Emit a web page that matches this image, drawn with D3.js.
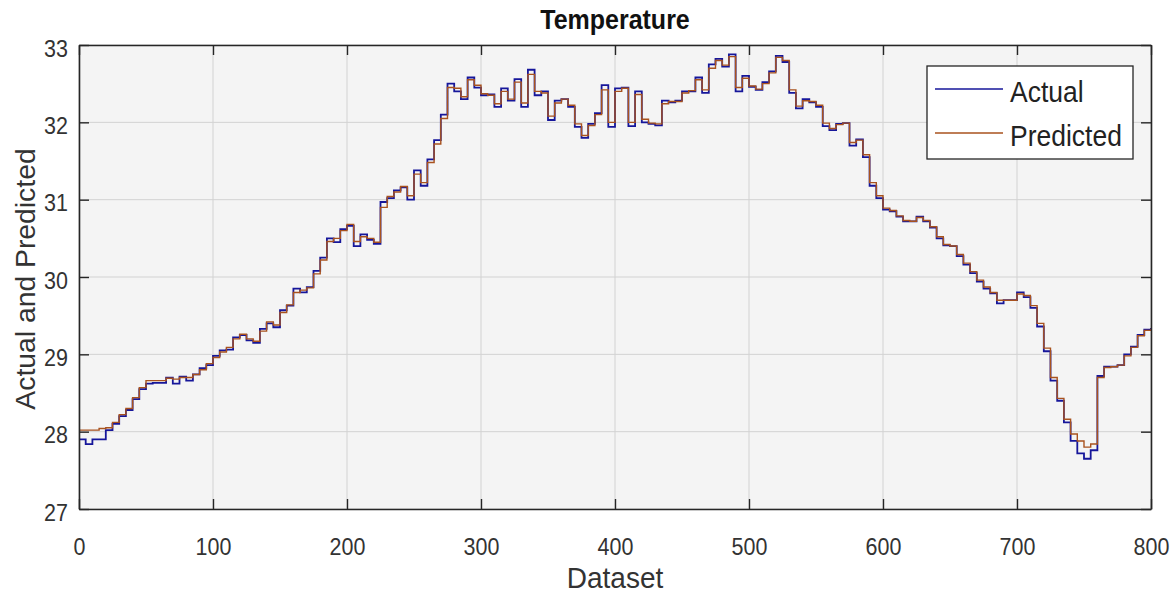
<!DOCTYPE html>
<html>
<head>
<meta charset="utf-8">
<script src="https://cdn.jsdelivr.net/npm/d3@7"></script>
<style>
  body { margin: 0; background: #ffffff; }
  text { font-family: "Liberation Sans", Arial, Helvetica, sans-serif; }
</style>
</head>
<body>
<svg id="chart" width="1176" height="595"></svg>
<script>
// Chart text
const chartTitle = "Temperature";
const xLabel = "Dataset";
const yLabel = "Actual and Predicted";
const seriesNames = ["Actual", "Predicted"];

// Axis ticks
const xTicks = [0, 100, 200, 300, 400, 500, 600, 700, 800];
const yTicks = [27, 28, 29, 30, 31, 32, 33];

// Sample spacing of the series (dataset index 0..800, every 5th sample)
const sampleStep = 5;

const actual = [
  27.90, 27.84, 27.90, 27.90, 28.02, 28.10, 28.20, 28.28, 28.42, 28.55,
  28.62, 28.63, 28.63, 28.70, 28.62, 28.71, 28.66, 28.74, 28.82, 28.86,
  28.98, 29.05, 29.06, 29.22, 29.25, 29.18, 29.15, 29.33, 29.40, 29.35,
  29.57, 29.63, 29.85, 29.80, 29.87, 30.08, 30.25, 30.50, 30.45, 30.62,
  30.66, 30.40, 30.55, 30.48, 30.43, 30.97, 31.02, 31.12, 31.16, 31.00,
  31.38, 31.18, 31.52, 31.77, 32.10, 32.50, 32.40, 32.30, 32.58, 32.45,
  32.35, 32.36, 32.20, 32.44, 32.28, 32.56, 32.20, 32.68, 32.35, 32.40,
  32.03, 32.28, 32.30, 32.20, 31.94, 31.80, 31.98, 32.12, 32.48, 31.94,
  32.44, 32.45, 31.95, 32.40, 32.00, 31.98, 31.96, 32.28, 32.26, 32.28,
  32.40, 32.40, 32.58, 32.38, 32.75, 32.82, 32.72, 32.88, 32.40, 32.60,
  32.46, 32.42, 32.52, 32.66, 32.86, 32.78, 32.38, 32.18, 32.30, 32.26,
  32.20, 31.95, 31.90, 31.98, 31.99, 31.70, 31.78, 31.55, 31.18, 31.02,
  30.87, 30.85, 30.78, 30.72, 30.72, 30.78, 30.72, 30.64, 30.50, 30.41,
  30.40, 30.27, 30.16, 30.05, 29.94, 29.85, 29.79, 29.66, 29.70, 29.70,
  29.80, 29.74, 29.60, 29.36, 29.04, 28.66, 28.40, 28.12, 27.88, 27.72,
  27.65, 27.76, 28.72, 28.84, 28.84, 28.86, 29.00, 29.10, 29.25, 29.32,
  29.34
];

const predicted = [
  28.02, 28.02, 28.02, 28.04, 28.05, 28.12, 28.22, 28.30, 28.44, 28.57,
  28.66, 28.66, 28.66, 28.69, 28.68, 28.70, 28.70, 28.74, 28.80, 28.88,
  28.96, 29.03, 29.09, 29.20, 29.26, 29.20, 29.17, 29.30, 29.42, 29.38,
  29.54, 29.64, 29.80, 29.83, 29.86, 30.04, 30.22, 30.46, 30.50, 30.60,
  30.68, 30.46, 30.52, 30.50, 30.45, 30.90, 31.04, 31.10, 31.17, 31.05,
  31.33, 31.22, 31.48, 31.72, 32.05, 32.45, 32.44, 32.33, 32.55, 32.48,
  32.37, 32.35, 32.24, 32.40, 32.30, 32.52, 32.25, 32.62, 32.40, 32.38,
  32.08, 32.25, 32.30, 32.22, 31.98, 31.83, 31.96, 32.10, 32.42, 32.00,
  32.40, 32.44, 32.00, 32.36, 32.04, 31.99, 31.98, 32.24, 32.27, 32.27,
  32.38, 32.41, 32.55, 32.42, 32.70, 32.80, 32.74, 32.85, 32.45, 32.57,
  32.47, 32.43, 32.50, 32.64, 32.84, 32.80, 32.42, 32.21, 32.28, 32.27,
  32.22, 31.99, 31.92, 31.97, 31.99, 31.74, 31.77, 31.58, 31.22, 31.05,
  30.89, 30.86, 30.79, 30.73, 30.72, 30.77, 30.73, 30.65, 30.52, 30.42,
  30.40, 30.29, 30.18, 30.07, 29.96, 29.87, 29.80, 29.70, 29.70, 29.70,
  29.78, 29.76, 29.63, 29.40, 29.08, 28.70, 28.43, 28.16, 27.97, 27.88,
  27.80, 27.84, 28.70, 28.83, 28.84, 28.86, 28.98, 29.09, 29.24, 29.31,
  29.33
];

const seriesColors = ["#16169a", "#a8521e"];

// Layout
const plot = { left: 79, right: 1151, top: 45, bottom: 509 };
const svg = d3.select("#chart");

const x = d3.scaleLinear().domain([0, 800]).range([plot.left, plot.right]);
const y = d3.scaleLinear().domain([27, 33]).range([plot.bottom, plot.top]);

// Axes background
svg.append("rect")
  .attr("x", plot.left).attr("y", plot.top)
  .attr("width", plot.right - plot.left).attr("height", plot.bottom - plot.top)
  .attr("fill", "#f4f4f4");

// Grid lines
svg.append("g").selectAll("line").data(xTicks).join("line")
  .attr("x1", d => x(d)).attr("x2", d => x(d))
  .attr("y1", plot.top).attr("y2", plot.bottom)
  .attr("stroke", "#d2d2d2").attr("stroke-width", 1);
svg.append("g").selectAll("line").data(yTicks).join("line")
  .attr("x1", plot.left).attr("x2", plot.right)
  .attr("y1", d => y(d)).attr("y2", d => y(d))
  .attr("stroke", "#d2d2d2").attr("stroke-width", 1);

// Series lines
const rows = actual.map((v, i) => ({ idx: i * sampleStep, actual: v, predicted: predicted[i] }));
svg.append("clipPath").attr("id", "plotClip").append("rect")
  .attr("x", plot.left).attr("y", plot.top)
  .attr("width", plot.right - plot.left).attr("height", plot.bottom - plot.top);

const lineFor = key => d3.line()
  .x(d => x(d.idx))
  .y(d => y(d[key]))
  .curve(d3.curveStepAfter);

const seriesG = svg.append("g").attr("clip-path", "url(#plotClip)");
seriesG.append("path").datum(rows)
  .attr("d", lineFor("actual"))
  .attr("fill", "none").attr("stroke", seriesColors[0]).attr("stroke-width", 1.8);
seriesG.append("path").datum(rows)
  .attr("d", lineFor("predicted"))
  .attr("fill", "none").attr("stroke", seriesColors[1]).attr("stroke-width", 1.4);

// Axes with inward ticks on all four sides
const tickLen = 10;
const axisColor = "#262626";
const xb = d3.axisBottom(x).tickValues(xTicks).tickSizeInner(-tickLen).tickSizeOuter(0).tickFormat(d3.format("d"));
const xt = d3.axisTop(x).tickValues(xTicks).tickSizeInner(-tickLen).tickSizeOuter(0).tickFormat("");
const yl = d3.axisLeft(y).tickValues(yTicks).tickSizeInner(-tickLen).tickSizeOuter(0).tickFormat(d3.format("d"));
const yr = d3.axisRight(y).tickValues(yTicks).tickSizeInner(-tickLen).tickSizeOuter(0).tickFormat("");

function styleAxis(g) {
  g.select(".domain").attr("stroke", axisColor).attr("stroke-width", 1.6);
  g.selectAll(".tick line").attr("stroke", axisColor).attr("stroke-width", 1.4);
  g.selectAll(".tick text").attr("fill", "#333333").style("font-size", "21.5px")
    .style("font-family", "'Liberation Sans', Arial, sans-serif");
}

const gxb = svg.append("g").attr("transform", `translate(0,${plot.bottom})`).call(xb).call(styleAxis);
gxb.selectAll(".tick text").attr("dy", null).attr("y", 0)
  .attr("transform", "translate(0,46) scale(1,1.12)");
svg.append("g").attr("transform", `translate(0,${plot.top})`).call(xt).call(styleAxis);
const gyl = svg.append("g").attr("transform", `translate(${plot.left},0)`).call(yl).call(styleAxis);
gyl.selectAll(".tick text").attr("dy", null).attr("x", 0)
  .attr("transform", "translate(-11,11) scale(1,1.12)");
svg.append("g").attr("transform", `translate(${plot.right},0)`).call(yr).call(styleAxis);

// Title and axis labels
svg.append("text")
  .attr("transform", `translate(${(plot.left + plot.right) / 2},29) scale(1,1.1)`)
  .attr("text-anchor", "middle").attr("font-weight", "bold")
  .attr("fill", "#111111").style("font-size", "25px")
  .text(chartTitle);

svg.append("text")
  .attr("transform", `translate(${(plot.left + plot.right) / 2},588) scale(1,1.06)`)
  .attr("text-anchor", "middle").attr("fill", "#333333").style("font-size", "28px")
  .text(xLabel);

svg.append("text")
  .attr("transform", `translate(35,${(plot.top + plot.bottom) / 2 + 2}) rotate(-90) scale(1.03,1)`)
  .attr("text-anchor", "middle").attr("fill", "#333333").style("font-size", "27.5px")
  .text(yLabel);

// Legend
const legend = svg.append("g");
legend.append("rect")
  .attr("x", 927).attr("y", 66).attr("width", 206).attr("height", 93)
  .attr("fill", "#ffffff").attr("stroke", "#262626").attr("stroke-width", 1.3);
const legendRows = seriesNames.map((name, i) => ({ name, color: seriesColors[i], cy: 89 + i * 44 }));
legend.selectAll("line.key").data(legendRows).join("line")
  .attr("class", "key")
  .attr("x1", 935).attr("x2", 1003)
  .attr("y1", d => d.cy).attr("y2", d => d.cy)
  .attr("stroke", d => d.color).attr("stroke-width", 1.6);
legend.selectAll("text.key").data(legendRows).join("text")
  .attr("class", "key")
  .attr("transform", d => `translate(1010,${d.cy + 13}) scale(1,1.12)`)
  .attr("fill", "#222222").style("font-size", "26.5px")
  .text(d => d.name);
</script>
</body>
</html>
